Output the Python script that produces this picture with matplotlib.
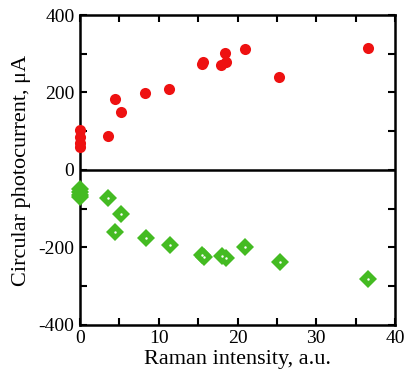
import matplotlib
matplotlib.use("Agg")
import matplotlib.pyplot as plt
from matplotlib.ticker import MultipleLocator

# Data
red_x = [0, 0, 0, 0, 3.5, 4.5, 5.2, 8.3, 11.3, 15.5, 15.6, 17.9, 18.4, 18.5, 21.0, 25.3, 36.6]
red_y = [60, 70, 84, 103, 88, 184, 150, 199, 208, 273, 278, 271, 302, 278, 313, 241, 314]

green_x = [0, 0, 0, 0, 3.5, 5.2, 4.5, 8.4, 11.4, 15.5, 15.8, 18.0, 18.5, 21.0, 25.4, 36.6]
green_y = [-50, -57, -64, -70, -72, -115, -159, -175, -193, -220, -226, -223, -227, -199, -237, -281]

xticks = [0, 10, 20, 30, 40]
yticks = [-400, -200, 0, 200, 400]

plt.rcParams['font.family'] = ['Liberation Serif', 'DejaVu Serif']

fig = plt.figure(figsize=(4.05, 3.76), dpi=100)
ax = fig.add_axes([0.1975, 0.136, 0.778, 0.824])

ax.axhline(0, color='black', lw=1.8, zorder=1)
ax.plot(red_x, red_y, 'o', color='#ee1111', markersize=8, markeredgewidth=0, zorder=3, clip_on=False)
ax.plot(green_x, green_y, 'D', color='#44bb22', markersize=9, markeredgewidth=0, zorder=3, clip_on=False)
ax.plot(green_x[4:], green_y[4:], '.', color='white', markersize=1.5, zorder=4)

ax.set_xlim(0, 40)
ax.set_ylim(-400, 400)
ax.set_xticks(xticks)
ax.set_yticks(yticks)
ax.set_yticklabels([str(v) for v in yticks])
ax.xaxis.set_minor_locator(MultipleLocator(5))
ax.yaxis.set_minor_locator(MultipleLocator(100))
ax.tick_params(which='both', direction='in', top=True, right=True, width=1.5, labelsize=14, length=5, pad=4)
ax.tick_params(which='minor', length=5)
for s in ax.spines.values():
    s.set_linewidth(1.8)

ax.set_xlabel('Raman intensity, a.u.', fontsize=16, labelpad=2)
ax.set_ylabel('Circular photocurrent, μA', fontsize=16, labelpad=5)

fig.savefig('out.png', dpi=100)
